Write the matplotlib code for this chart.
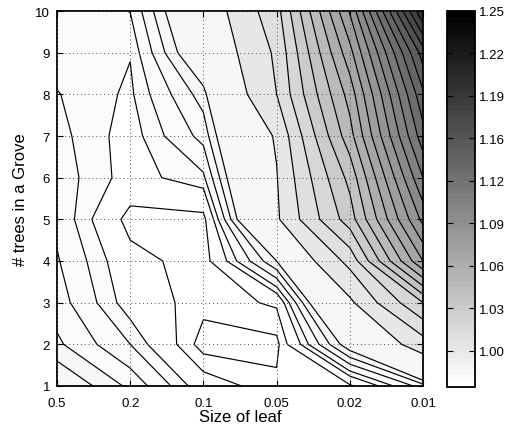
import numpy as np
import matplotlib
matplotlib.use("Agg")
import matplotlib.pyplot as plt
from matplotlib.colors import ListedColormap, Normalize
from matplotlib.cm import ScalarMappable

plt.rcParams['font.family'] = ['Liberation Sans', 'DejaVu Sans']

leaf_sizes = ['0.5', '0.2', '0.1', '0.05', '0.02', '0.01']
n_trees = [1, 2, 3, 4, 5, 6, 7, 8, 9, 10]

# relative error, one row per grove size (1 tree at the bottom)
error_grid = [
    [0.9884, 0.9835, 0.9772, 0.9749, 0.9756, 0.9830],
    [0.9844, 0.9800, 0.9737, 0.9740, 0.9878, 1.0050],
    [0.9830, 0.9775, 0.97505, 0.9763, 0.9980, 1.0300],
    [0.9822, 0.9768, 0.9750, 0.9860, 1.0130, 1.0800],
    [0.9815, 0.9752, 0.9753, 0.9985, 1.0350, 1.1030],
    [0.9810, 0.97767, 0.9796, 0.9995, 1.0430, 1.1200],
    [0.9806, 0.97764, 0.9827, 1.0010, 1.0560, 1.1360],
    [0.9801, 0.97817, 0.9850, 1.0100, 1.0640, 1.1480],
    [0.9792, 0.97859, 0.9900, 1.0116, 1.0765, 1.1650],
    [0.9789, 0.98005, 0.9925, 1.0160, 1.0910, 1.2000],
]

low_levels = [0.9745, 0.976, 0.9785, 0.980, 0.982, 0.984, 0.986]
high_levels = [round(1.00 + 0.01 * k, 2) for k in range(25)]
levels = low_levels + high_levels

cbar_min, cbar_max = 0.9735, 1.25
cbar_ticks = np.linspace(1.0, 1.25, 9)

Z = np.array(error_grid)
X, Y = np.meshgrid(np.arange(len(leaf_sizes)), n_trees)

# flipped 64-step gray map, each band painted with its lower level
cmap = ListedColormap(plt.cm.gray_r(np.linspace(0, 1, 64)))
norm = Normalize(cbar_min, cbar_max)
fill_levels = [cbar_min] + levels + [cbar_max + 0.01]
band_colors = [cmap(norm(v)) for v in fill_levels[:-1]]

fig = plt.figure(figsize=(5.09, 4.31), dpi=100)
ax = fig.add_axes([57 / 509, 44 / 431, 366 / 509, 375 / 431])
cax = fig.add_axes([447 / 509, 43 / 431, 28 / 509, 376 / 431])

ax.contourf(X, Y, Z, levels=fill_levels, colors=band_colors)
ax.contour(X, Y, Z, levels=levels, colors='k', linewidths=0.85)

ax.set_xlim(0, len(leaf_sizes) - 1)
ax.set_ylim(1, 10)
ax.set_xticks(range(len(leaf_sizes)))
ax.set_xticklabels(leaf_sizes)
ax.set_yticks(n_trees)
ax.set_axisbelow(False)
ax.grid(True, color='0.3', linestyle=(0, (1, 3)), linewidth=0.7)
ax.tick_params(direction='in', top=True, right=True, length=4, labelsize=9.5)
ax.tick_params(axis='x', pad=8)
ax.tick_params(axis='y', pad=5)
for s in ax.spines.values():
    s.set_linewidth(1.3)
ax.set_xlabel('Size of leaf', fontsize=12, labelpad=0)
ax.set_ylabel('# trees in a Grove', fontsize=12, labelpad=5)

cb = fig.colorbar(ScalarMappable(norm=norm, cmap=cmap), cax=cax)
cb.set_ticks(cbar_ticks)
cb.set_ticklabels(['%.2f' % t for t in cbar_ticks])
cax.tick_params(direction='in', left=True, right=True, length=4, labelsize=9.5, pad=3)
cb.outline.set_linewidth(1.3)

fig.savefig('out.png', dpi=100)
